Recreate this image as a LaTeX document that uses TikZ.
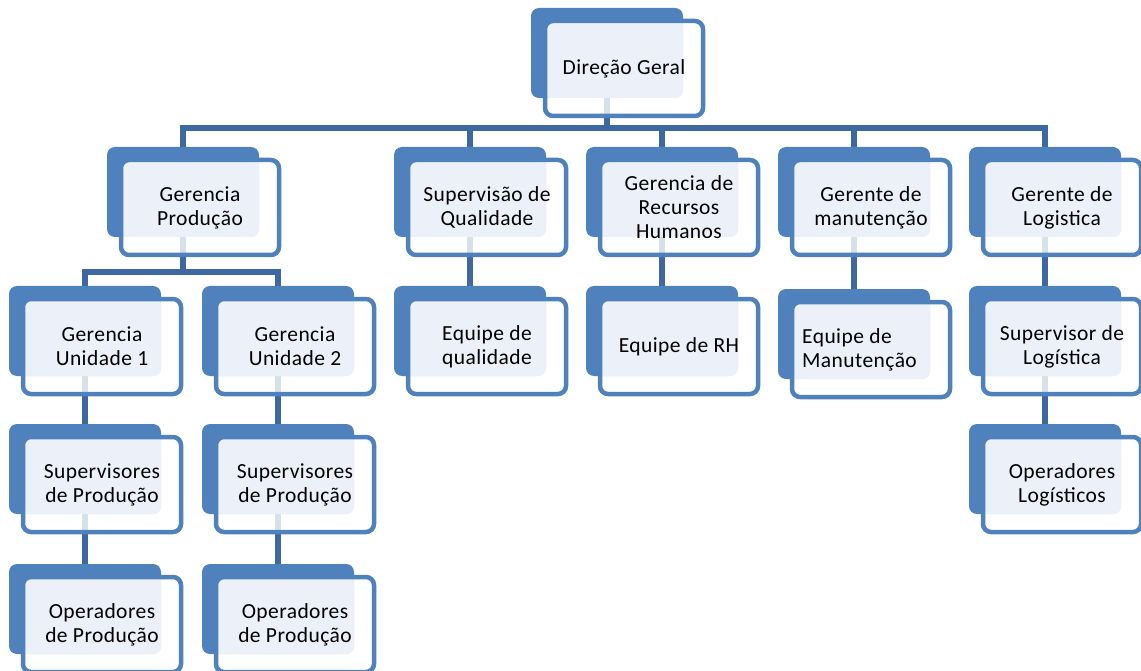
\documentclass[tikz,border=0pt]{standalone}
\usepackage{fontspec}
\setmainfont{Carlito}[LetterSpace=2]
\usetikzlibrary{backgrounds}
\definecolor{backblue}{HTML}{4F81BD}
\definecolor{connblue}{HTML}{3D68A2}
\definecolor{paleblue}{HTML}{ECF0F8}
\newcommand\boxfont{\fontsize{21.5}{24}\selectfont}

\tikzset{
  backbox/.style={rectangle, rounded corners=8pt, fill=backblue, draw=none,
    minimum width=152pt, minimum height=90pt, inner sep=0pt, outer sep=0pt},
  frontbox/.style={rectangle, fill=white, fill opacity=0.8, draw=none,
    rounded corners=8pt, minimum width=158pt, minimum height=95pt,
    inner sep=0pt, outer sep=0pt},
  frontline/.style={draw=backblue, line width=4.5pt, rounded corners=8pt},
  boxlabel/.style={align=center, font=\boxfont, text=black, inner sep=0pt},
  conn/.style={draw=connblue, line width=5.5pt},
}

% #1 name, #2 #3 top-left corner of the blue back plate, #4 label text
\newcommand\orgbox[4]{%
  \node[backbox] (#1b) at (#2+76, #3+45) {};
  \node[frontbox] (#1) at (#2+14+79, #3+13+47.5) {};
  \begin{scope}
    \clip[rounded corners=8pt] (#1b.south west) rectangle (#1b.north east);
    \fill[paleblue, rounded corners=8pt] (#1.south west) rectangle (#1.north east);
  \end{scope}
  \draw[frontline] (#1.south west) rectangle (#1.north east);
  \node[boxlabel] (#1t) at (#1.center) {#4};
}

\begin{document}
\begin{tikzpicture}[x=1pt, y=-1pt]
  \useasboundingbox (0,0) rectangle (1141,671);

  % top level
  \orgbox{dg}{531}{8}{Direção Geral}

  % first level
  \orgbox{gp}{107}{147}{Gerencia\\Produção}
  \orgbox{sq}{394}{147}{Supervisão de\\Qualidade}
  \orgbox{rh}{586}{147}{Gerencia de\\Recursos\\Humanos}
  \orgbox{gm}{778}{147}{Gerente de\\manutenção}
  \orgbox{gl}{969}{147}{Gerente de\\Logistica}

  % second level
  \orgbox{ua}{9}{286}{Gerencia\\Unidade 1}
  \orgbox{ub}{202}{286}{Gerencia\\Unidade 2}
  \orgbox{eq}{394}{286}{Equipe de\\qualidade}
  \orgbox{er}{586}{286}{Equipe de RH}
  \orgbox{em}{778}{289}{}
  \node[boxlabel, align=left, anchor=west] (emt) at ([xshift=10pt]em.west) {Equipe de\\Manutenção};
  \orgbox{sl}{969}{286}{Supervisor de\\Logística}

  % third level
  \orgbox{spa}{9}{424}{Supervisores\\de Produção}
  \orgbox{spb}{202}{424}{Supervisores\\de Produção}
  \orgbox{ol}{969}{424}{Operadores\\Logísticos}

  % fourth level
  \orgbox{opa}{9}{564}{Operadores\\de Produção}
  \orgbox{opb}{202}{564}{Operadores\\de Produção}

  \coordinate (bus) at (607,128);
  \coordinate (busgp) at (183,272);

  \begin{pgfonlayer}{background}
    \fill[white] (0,0) rectangle (1141,671);
    % bus under the top box
    \draw[conn] (dgb.center) -- (dgb.center |- bus);
    \draw[conn] (gpb.center) |- (bus) -| (glb.center);
    \draw[conn] (sqb.center |- bus) -- (sqb.center);
    \draw[conn] (rhb.center |- bus) -- (rhb.center);
    \draw[conn] (gmb.center |- bus) -- (gmb.center);
    % production branch
    \draw[conn] (gpb.center) -- (gpb.center |- busgp);
    \draw[conn] (uab.center) |- (busgp) -| (ubb.center);
    \draw[conn] (uab.center) -- (spab.center) -- (opab.center);
    \draw[conn] (ubb.center) -- (spbb.center) -- (opbb.center);
    % single chains
    \draw[conn] (sqb.center) -- (eqb.center);
    \draw[conn] (rhb.center) -- (erb.center);
    \draw[conn] (gmb.center) -- (emb.center);
    \draw[conn] (glb.center) -- (slb.center) -- (olb.center);
  \end{pgfonlayer}
\end{tikzpicture}
\end{document}
